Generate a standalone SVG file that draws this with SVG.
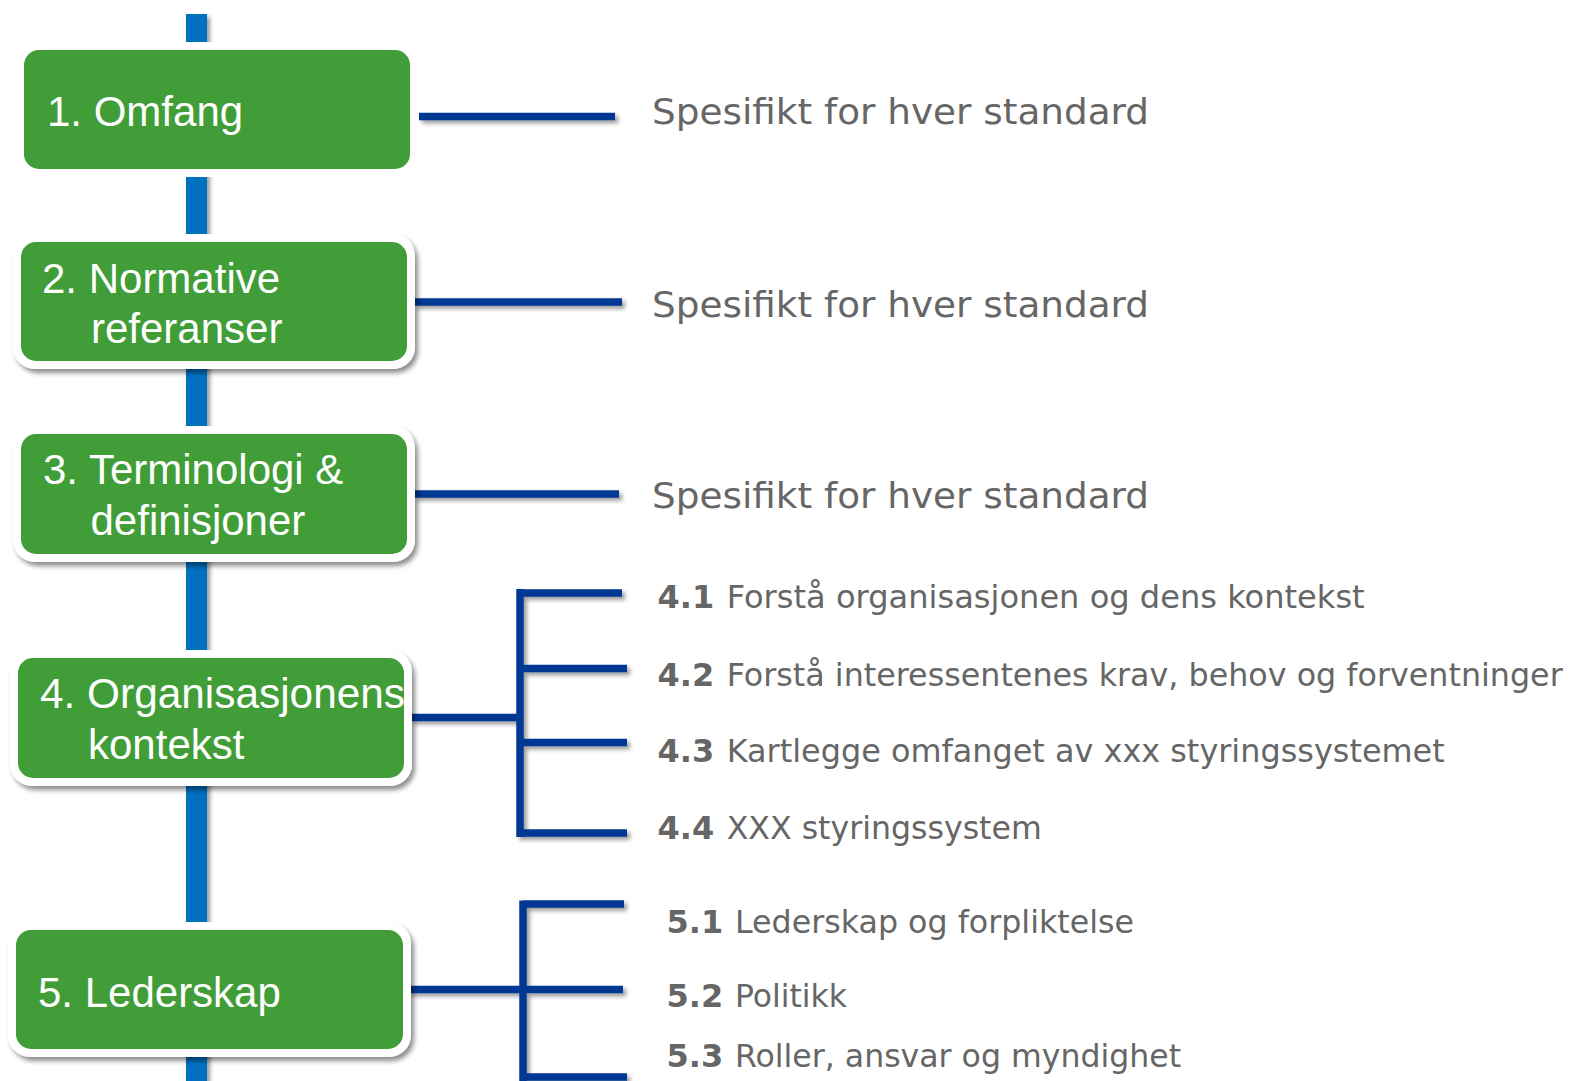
<svg xmlns="http://www.w3.org/2000/svg" width="1573" height="1081" viewBox="0 0 1573 1081">
<defs>
<filter id="sh" x="-20%" y="-20%" width="140%" height="140%">
<feGaussianBlur in="SourceAlpha" stdDeviation="2.5"/>
<feOffset dx="3" dy="4" result="b"/>
<feComponentTransfer><feFuncA type="linear" slope="0.45"/></feComponentTransfer>
<feMerge><feMergeNode/><feMergeNode in="SourceGraphic"/></feMerge>
</filter>
<filter id="lsh" filterUnits="userSpaceOnUse" x="0" y="0" width="1573" height="1081">
<feGaussianBlur in="SourceAlpha" stdDeviation="2"/>
<feOffset dx="3" dy="3" result="b"/>
<feComponentTransfer><feFuncA type="linear" slope="0.4"/></feComponentTransfer>
<feMerge><feMergeNode/><feMergeNode in="SourceGraphic"/></feMerge>
</filter>
</defs>
<style>
.spine{fill:#0070C0}
.con{stroke:#003893;stroke-width:7.5;fill:none;stroke-linecap:butt}
.outer{fill:#ffffff}
.box{fill:#409D37}
.bt{font-family:"Liberation Sans",Arial,sans-serif;font-size:42px;fill:#ffffff}
.big{font-family:"DejaVu Sans",Verdana,sans-serif;font-size:36px;fill:#666666}
.sub{font-family:"DejaVu Sans",Verdana,sans-serif;font-size:32px;fill:#666666}
.num{font-family:"DejaVu Sans",Verdana,sans-serif;font-size:32px;font-weight:bold;fill:#666666}
</style>
<rect width="1573" height="1081" fill="#ffffff"/>

<g id="spine" filter="url(#lsh)">
<rect class="spine" x="186" y="14" width="21" height="1080"/>
</g>

<g id="connectors" filter="url(#lsh)">
<path class="con" d="M419 116.5H615"/>
<path class="con" d="M414 302H622"/>
<path class="con" d="M414 494H619"/>
<path class="con" d="M410 717.5H520M520 589V837M520 593H622M520 668.5H627M520 742.5H627M520 833H627"/>
<path class="con" d="M408 989.5H623M523 900.5V1090M523 904H624M523 1077H627"/>
</g>

<g id="node1">
<rect class="outer" x="16" y="42" width="402" height="135" rx="22"/>
<rect class="box" x="24" y="50" width="386" height="119" rx="15"/>
<text class="bt" x="47" y="125.7">1. Omfang</text>
</g>
<g id="node2">
<rect class="outer" x="13" y="234" width="402" height="135" rx="22" filter="url(#sh)"/>
<rect class="box" x="21" y="242" width="386" height="119" rx="15"/>
<text class="bt" x="42" y="292.7">2. Normative</text>
<text class="bt" x="91" y="343">referanser</text>
</g>
<g id="node3">
<rect class="outer" x="13" y="426" width="402" height="136" rx="22" filter="url(#sh)"/>
<rect class="box" x="21" y="434" width="386" height="120" rx="15"/>
<text class="bt" x="43" y="484.3">3. Terminologi &amp;</text>
<text class="bt" x="90.5" y="535">definisjoner</text>
</g>
<g id="node4">
<rect class="outer" x="10" y="650" width="402" height="136" rx="22" filter="url(#sh)"/>
<rect class="box" x="18" y="658" width="386" height="120" rx="15"/>
<text class="bt" x="40" y="708" textLength="365" lengthAdjust="spacingAndGlyphs">4. Organisasjonens</text>
<text class="bt" x="88" y="759">kontekst</text>
</g>
<g id="node5">
<rect class="outer" x="8" y="922" width="403" height="135" rx="22" filter="url(#sh)"/>
<rect class="box" x="16" y="930" width="387" height="119" rx="15"/>
<text class="bt" x="38" y="1006.7">5. Lederskap</text>
</g>

<g id="labels">
<text class="big" x="652" y="124.3" textLength="497" lengthAdjust="spacingAndGlyphs">Spesifikt for hver standard</text>
<text class="big" x="652" y="316.7" textLength="497" lengthAdjust="spacingAndGlyphs">Spesifikt for hver standard</text>
<text class="big" x="652" y="508.3" textLength="497" lengthAdjust="spacingAndGlyphs">Spesifikt for hver standard</text>

<text class="num" x="657.5" y="608.3">4.1</text>
<text class="sub" x="726.7" y="608.3" textLength="638" lengthAdjust="spacingAndGlyphs">Forstå organisasjonen og dens kontekst</text>
<text class="num" x="657.5" y="685.7">4.2</text>
<text class="sub" x="726.7" y="685.7" textLength="836" lengthAdjust="spacingAndGlyphs">Forstå interessentenes krav, behov og forventninger</text>
<text class="num" x="657.5" y="762.3">4.3</text>
<text class="sub" x="726.7" y="762.3" textLength="718" lengthAdjust="spacingAndGlyphs">Kartlegge omfanget av xxx styringssystemet</text>
<text class="num" x="657.5" y="839">4.4</text>
<text class="sub" x="726.7" y="839" textLength="315" lengthAdjust="spacingAndGlyphs">XXX styringssystem</text>

<text class="num" x="666.5" y="932.7">5.1</text>
<text class="sub" x="735" y="932.7" textLength="399" lengthAdjust="spacingAndGlyphs">Lederskap og forpliktelse</text>
<text class="num" x="666.5" y="1006.7">5.2</text>
<text class="sub" x="735" y="1006.7" textLength="112" lengthAdjust="spacingAndGlyphs">Politikk</text>
<text class="num" x="666.5" y="1066.7">5.3</text>
<text class="sub" x="735" y="1066.7" textLength="446" lengthAdjust="spacingAndGlyphs">Roller, ansvar og myndighet</text>
</g>
</svg>
